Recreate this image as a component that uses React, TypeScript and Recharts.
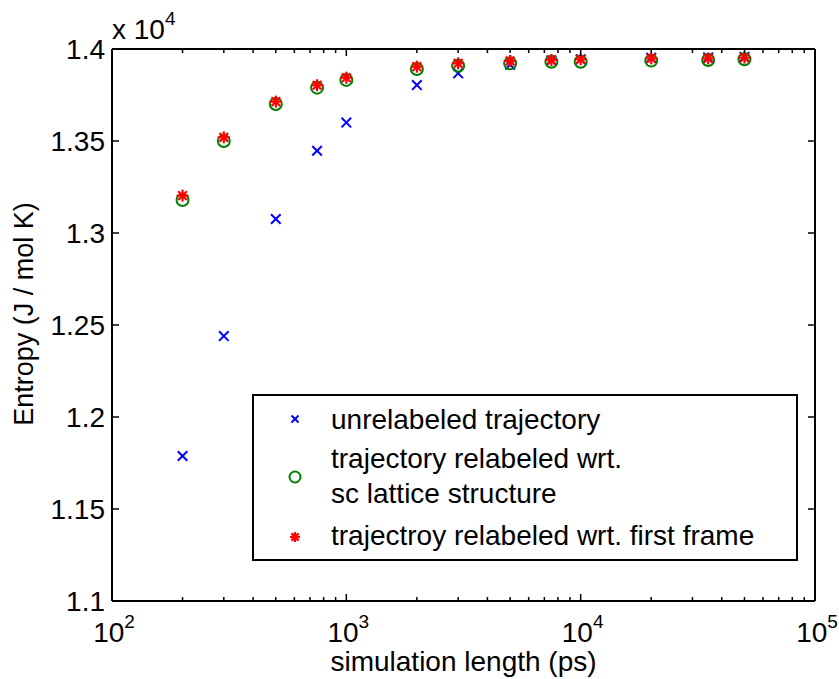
import { Scatter, ScatterChart, XAxis, YAxis } from "recharts";

const simLength = [200, 300, 500, 750, 1000, 2000, 3000, 5000, 7500, 10000, 20000, 35000, 50000];
const unrelabeled = [11788, 12440, 13076, 13447, 13600, 13804, 13868, 13915, 13938, 13944, 13953, 13954, 13957];
const latticeRelabeled = [13179, 13500, 13701, 13790, 13832, 13891, 13909, 13922, 13931, 13931, 13937, 13940, 13944];
const frameRelabeled = [13203, 13520, 13714, 13803, 13844, 13904, 13922, 13935, 13940, 13944, 13949, 13949, 13953];

const xTicks = [
  100, 200, 300, 400, 500, 600, 700, 800, 900,
  1000, 2000, 3000, 4000, 5000, 6000, 7000, 8000, 9000,
  10000, 20000, 30000, 40000, 50000, 60000, 70000, 80000, 90000,
  100000,
];
const xDecades = [100, 1000, 10000, 100000];
const yTicks = [11000, 11500, 12000, 12500, 13000, 13500, 14000];
const yScaleExp = 4;

const legendRows = [
  { marker: "x", lines: ["unrelabeled trajectory"] },
  { marker: "o", lines: ["trajectory relabeled wrt.", "sc lattice structure"] },
  { marker: "*", lines: ["trajectroy relabeled wrt. first frame"] },
];

const FONT = '"Liberation Sans", Arial, Helvetica, sans-serif';
const FS = 28;
const SUP = 19;
const BLUE = "#0000ff";
const GREEN = "#008000";
const RED = "#ff0000";

const toPoints = (ys: number[]) => simLength.map((x, i) => ({ x, y: ys[i] }));

function XMark({ cx, cy, r = 4.8 }: any) {
  return (
    <g stroke={BLUE} strokeWidth={2}>
      <line x1={cx - r} y1={cy - r} x2={cx + r} y2={cy + r} />
      <line x1={cx - r} y1={cy + r} x2={cx + r} y2={cy - r} />
    </g>
  );
}

function OMark({ cx, cy, r = 6 }: any) {
  return <circle cx={cx} cy={cy} r={r} fill="none" stroke={GREEN} strokeWidth={2} />;
}

function StarMark({ cx, cy, r = 6 }: any) {
  const d = r * 0.72;
  return (
    <g stroke={RED} strokeWidth={2.2}>
      <line x1={cx} y1={cy - r} x2={cx} y2={cy + r} />
      <line x1={cx - r} y1={cy} x2={cx + r} y2={cy} />
      <line x1={cx - d} y1={cy - d} x2={cx + d} y2={cy + d} />
      <line x1={cx - d} y1={cy + d} x2={cx + d} y2={cy - d} />
    </g>
  );
}

function BottomTick({ x, y, payload }: any) {
  const v = payload.value;
  const major = xDecades.includes(v);
  return (
    <g>
      <line x1={x} x2={x} y1={y} y2={y - (major ? 7 : 4)} stroke="#000" strokeWidth={1.5} />
      {major && (
        <text x={x + 2} y={y + 41} textAnchor="middle" fontSize={FS} fill="#000">
          10
          <tspan dy={-14} fontSize={SUP}>
            {Math.round(Math.log10(v))}
          </tspan>
        </text>
      )}
    </g>
  );
}

function TopTick({ x, y, payload }: any) {
  const major = xDecades.includes(payload.value);
  return <line x1={x} x2={x} y1={y} y2={y + (major ? 7 : 4)} stroke="#000" strokeWidth={1.5} />;
}

function LeftTick({ x, y, payload }: any) {
  return (
    <g>
      <line x1={x} x2={x + 7} y1={y} y2={y} stroke="#000" strokeWidth={1.5} />
      <text x={x - 7} y={y + 10} textAnchor="end" fontSize={FS} fill="#000">
        {payload.value / 10 ** yScaleExp}
      </text>
    </g>
  );
}

function RightTick({ x, y }: any) {
  return <line x1={x} x2={x - 7} y1={y} y2={y} stroke="#000" strokeWidth={1.5} />;
}

function XTitle({ viewBox }: any) {
  const cx = viewBox.x + viewBox.width / 2;
  return (
    <text x={cx} y={671} textAnchor="middle" fontSize={FS} fill="#000">
      simulation length (ps)
    </text>
  );
}

function YTitle() {
  return (
    <g fill="#000">
      <text transform="translate(33,314) rotate(-90)" textAnchor="middle" fontSize={27}>
        Entropy (J / mol K)
      </text>
      <text x={112} y={39} fontSize={FS}>
        x 10
        <tspan dy={-14} fontSize={SUP}>
          {yScaleExp}
        </tspan>
      </text>
    </g>
  );
}

function LegendBox() {
  const markerX = 295;
  const textX = 331;
  const markerY = [419, 477, 537];
  const baselines = [[429], [468], [545]];
  return (
    <g>
      <rect x={253} y={395} width={544} height={165} fill="#fff" stroke="#000" strokeWidth={2} />
      {legendRows.map((row, i) => (
        <g key={i}>
          {row.marker === "x" && <XMark cx={markerX} cy={markerY[i]} r={3.5} />}
          {row.marker === "o" && <OMark cx={markerX} cy={markerY[i]} r={5.5} />}
          {row.marker === "*" && <StarMark cx={markerX} cy={markerY[i]} r={5} />}
          {row.lines.map((t, j) => (
            <text key={j} x={textX} y={baselines[i][0] + j * 35} fontSize={FS} fill="#000">
              {t}
            </text>
          ))}
        </g>
      ))}
    </g>
  );
}

export default function App() {
  const axisLine = { stroke: "#000", strokeWidth: 2 };
  return (
    <div style={{ position: "absolute", left: 0, top: 0, background: "#fff" }}>
      <ScatterChart
        width={839}
        height={679}
        margin={{ top: 48, right: 23, bottom: 0, left: 0 }}
        style={{ fontFamily: FONT }}
      >
        <XAxis
          xAxisId="b"
          dataKey="x"
          type="number"
          scale="log"
          domain={[100, 100000]}
          allowDataOverflow
          ticks={xTicks}
          interval={0}
          height={78}
          tickSize={0}
          tickMargin={0}
          tickLine={false}
          axisLine={axisLine}
          tick={(p: any) => <BottomTick {...p} />}
          label={{ content: (p: any) => <XTitle {...p} /> }}
        />
        <XAxis
          xAxisId="t"
          orientation="top"
          dataKey="x"
          type="number"
          scale="log"
          domain={[100, 100000]}
          allowDataOverflow
          ticks={xTicks}
          interval={0}
          height={1}
          tickSize={0}
          tickMargin={0}
          tickLine={false}
          axisLine={axisLine}
          tick={(p: any) => <TopTick {...p} />}
        />
        <YAxis
          yAxisId="l"
          dataKey="y"
          type="number"
          domain={[11000, 14000]}
          allowDataOverflow
          ticks={yTicks}
          interval={0}
          width={112}
          tickSize={0}
          tickMargin={0}
          tickLine={false}
          axisLine={axisLine}
          tick={(p: any) => <LeftTick {...p} />}
          label={{ content: () => <YTitle /> }}
        />
        <YAxis
          yAxisId="r"
          orientation="right"
          dataKey="y"
          type="number"
          domain={[11000, 14000]}
          allowDataOverflow
          ticks={yTicks}
          interval={0}
          width={1}
          tickSize={0}
          tickMargin={0}
          tickLine={false}
          axisLine={axisLine}
          tick={(p: any) => <RightTick {...p} />}
        />
        <Scatter
          xAxisId="b"
          yAxisId="l"
          data={toPoints(unrelabeled)}
          isAnimationActive={false}
          shape={(p: any) => <XMark cx={p.cx} cy={p.cy} />}
        />
        <Scatter
          xAxisId="b"
          yAxisId="l"
          data={toPoints(latticeRelabeled)}
          isAnimationActive={false}
          shape={(p: any) => <OMark cx={p.cx} cy={p.cy} />}
        />
        <Scatter
          xAxisId="b"
          yAxisId="l"
          data={toPoints(frameRelabeled)}
          isAnimationActive={false}
          shape={(p: any) => <StarMark cx={p.cx} cy={p.cy} />}
        />
        <LegendBox />
      </ScatterChart>
    </div>
  );
}
